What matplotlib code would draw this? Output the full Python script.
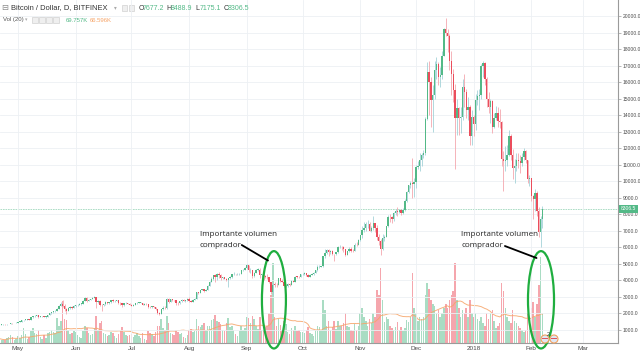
import matplotlib
matplotlib.use('Agg')
import matplotlib.pyplot as plt
import matplotlib.dates as mdates
import matplotlib.transforms as mtransforms
from matplotlib import font_manager
from matplotlib.patches import Ellipse, Rectangle
import numpy as np
import pandas as pd

# ---------------- data ----------------
start_date = '2017-04-21'
first_open = 1290.0

close = [
    1300, 1310, 1310, 1305, 1320, 1350, 1390, 1380, 1390, 1420,
    1470, 1480, 1550, 1580, 1590, 1610, 1600, 1730, 1790, 1830, 1880, 1760, 1800, 1810, 1770, 1770, 1860, 1970, 2040, 2120, 2150, 2250, 2430, 2560, 2450, 2250, 2140, 2300, 2370, 2330, 2430,
    2480, 2510, 2560, 2570, 2740, 2920, 2750, 2810, 2840, 2920, 2980, 2680, 2740, 2480, 2470, 2520, 2680, 2580, 2640, 2790, 2720, 2730, 2760, 2620, 2600, 2480, 2590, 2610, 2570, 2500,
    2440, 2510, 2600, 2620, 2620, 2620, 2500, 2560, 2520, 2360, 2350, 2410, 2360, 2220, 1980, 1930, 2230, 2320, 2280, 2850, 2680, 2820, 2770, 2760, 2600, 2580, 2700, 2810, 2740, 2770, 2860,
    2730, 2690, 2790, 2860, 3250, 3220, 3390, 3440, 3340, 3420, 3640, 3870, 4060, 4300, 4160, 4370, 4280, 4140, 4180, 4080, 4000, 4100, 4160, 4340, 4360, 4350, 4360, 4390, 4590, 4590, 4730,
    4900, 4580, 4600, 4250, 4420, 4620, 4630, 4310, 4330, 4250, 4200, 4170, 3880, 3250, 3720, 3710, 3680, 4100, 3910, 3900, 3630, 3630, 3780, 3670, 3930, 3890, 4210, 4190, 4170, 4340,
    4390, 4400, 4300, 4210, 4320, 4360, 4430, 4600, 4770, 4780, 4820, 5430, 5630, 5820, 5690, 5750, 5590, 5560, 5690, 5990, 6000, 5970, 5890, 5510, 5730, 5880, 5770, 5750, 6140, 6120, 6440,
    6740, 7030, 7180, 7380, 7400, 6990, 7130, 7460, 7150, 6620, 6350, 5880, 6530, 6600, 7280, 7830, 7800, 7720, 8040, 8200, 8100, 8240, 8080, 8250, 8800, 9330, 9750, 9900, 9800, 9950,
    10870, 10930, 11300, 11600, 11700, 13750, 16600, 16000, 14900, 15200, 16700, 17100, 16300, 16400, 17600, 19200, 19000, 18800, 17300, 16500, 15500, 13800, 14400, 13800, 13900, 15700, 15400, 14300, 14500, 12700, 13900,
    13450, 14900, 15150, 15200, 16950, 17150, 16200, 14950, 14500, 14850, 13300, 13800, 14150, 13650, 13600, 11350, 11200, 11250, 11600, 12700, 11550, 10800, 10900, 11300, 11200, 11100, 11450, 11800, 11250, 10100, 10200,
    9100, 8900, 9250, 8200, 6900, 7677.2, 8306.5,
]
high = [
    1315, 1320, 1320, 1320, 1330, 1360, 1400, 1410, 1395, 1430,
    1480, 1500, 1560, 1600, 1620, 1630, 1640, 1740, 1800, 1850, 1890, 1890, 1810, 1830, 1820, 1800, 1870, 1990, 2070, 2130, 2200, 2290, 2470, 2640, 2780, 2560, 2330, 2340, 2420, 2400, 2460,
    2500, 2530, 2590, 2600, 2760, 2950, 2940, 2820, 2870, 2940, 3020, 2990, 2800, 2800, 2530, 2560, 2720, 2690, 2660, 2800, 2830, 2780, 2790, 2770, 2640, 2620, 2600, 2650, 2620, 2600,
    2530, 2530, 2620, 2680, 2650, 2640, 2620, 2580, 2580, 2520, 2420, 2450, 2440, 2380, 2250, 2050, 2250, 2400, 2420, 2900, 2900, 2870, 2860, 2800, 2780, 2660, 2720, 2830, 2820, 2800, 2900,
    2950, 2780, 2820, 2920, 3300, 3280, 3420, 3470, 3430, 3450, 3680, 3960, 4200, 4330, 4380, 4420, 4480, 4380, 4200, 4200, 4100, 4150, 4250, 4370, 4460, 4380, 4410, 4410, 4620, 4640, 4760,
    4980, 4920, 4720, 4620, 4470, 4680, 4700, 4700, 4390, 4340, 4320, 4360, 4190, 3900, 3800, 3900, 3800, 4130, 4130, 4060, 3940, 3760, 3820, 3820, 3980, 3990, 4240, 4270, 4240, 4370,
    4400, 4470, 4420, 4350, 4350, 4420, 4460, 4620, 4880, 4920, 4870, 5450, 5850, 5860, 5850, 5790, 5790, 5600, 5720, 6080, 6150, 6070, 6050, 5900, 5760, 5980, 5990, 5850, 6260, 6300, 6470,
    6750, 7250, 7500, 7500, 7620, 7490, 7250, 7880, 7480, 7350, 6800, 6480, 6780, 6750, 7300, 7950, 8000, 7900, 8100, 8300, 8400, 8300, 8300, 8350, 8900, 9400, 9780, 9980, 11400, 10200,
    10950, 11200, 11700, 11700, 11900, 13850, 17200, 17300, 16300, 15800, 17300, 17500, 17200, 16900, 17900, 19300, 19890, 19200, 18900, 17900, 16800, 15900, 15000, 14500, 14500, 16200, 16500, 15600, 15100, 14600, 14300,
    14000, 15300, 15500, 15600, 17100, 17250, 17200, 16300, 15400, 14950, 14900, 14150, 14550, 14500, 14350, 13650, 11800, 12100, 12200, 13100, 12850, 11950, 11350, 11700, 11700, 11600, 11700, 12000, 11850, 11300, 10350,
    10150, 9150, 9500, 9400, 8400, 7900, 8488.9,
]
low = [
    1280, 1290, 1295, 1290, 1295, 1315, 1345, 1355, 1365, 1380,
    1410, 1440, 1470, 1530, 1560, 1580, 1570, 1590, 1700, 1760, 1810, 1720, 1730, 1760, 1730, 1720, 1760, 1850, 1960, 2030, 2050, 2120, 2250, 2400, 2350, 2150, 1950, 2100, 2270, 2250, 2300,
    2380, 2440, 2490, 2510, 2560, 2730, 2680, 2720, 2790, 2830, 2880, 2320, 2600, 2420, 2150, 2400, 2510, 2560, 2560, 2620, 2680, 2680, 2700, 2570, 2480, 2350, 2420, 2520, 2540, 2460,
    2400, 2420, 2500, 2570, 2580, 2580, 2480, 2490, 2500, 2300, 2280, 2310, 2320, 2180, 1950, 1850, 1920, 2200, 2250, 2260, 2620, 2660, 2700, 2700, 2500, 2500, 2560, 2680, 2700, 2680, 2740,
    2640, 2640, 2680, 2780, 2850, 3150, 3220, 3370, 3300, 3320, 3410, 3620, 3860, 3980, 3900, 4000, 4150, 4000, 4050, 4060, 3960, 3600, 4040, 4100, 4300, 4300, 4320, 4300, 4350, 4540, 4580,
    4690, 4500, 4420, 4110, 4160, 4420, 4520, 4130, 4180, 4000, 4120, 4070, 3800, 3150, 3100, 3570, 3570, 3680, 3860, 3860, 3600, 3560, 3600, 3650, 3670, 3850, 3880, 4120, 4110, 4160,
    4280, 4330, 4240, 4160, 4200, 4300, 4310, 4410, 4550, 4730, 4770, 4800, 5350, 5600, 5480, 5600, 5500, 5150, 5530, 5620, 5930, 5790, 5700, 5480, 5530, 5700, 5700, 5700, 5740, 6040, 6100,
    6350, 6550, 6880, 6950, 7150, 6950, 6900, 7050, 6930, 6400, 6100, 5500, 5800, 6350, 6590, 7200, 7500, 7470, 7600, 7920, 7900, 8050, 7950, 8000, 8200, 8750, 9250, 9600, 9000, 9050,
    9600, 10700, 10600, 10900, 11400, 11600, 13700, 14000, 13300, 13000, 15000, 16200, 15800, 15700, 16200, 17600, 18800, 17800, 16700, 15200, 14800, 10700, 12800, 12800, 12900, 13700, 14500, 13800, 13700, 12200, 12200,
    12700, 13100, 14600, 14300, 15000, 16300, 15800, 14500, 14100, 13500, 12900, 13200, 13700, 13300, 13200, 10900, 9400, 10600, 10900, 11500, 11300, 10100, 9900, 10600, 10800, 10500, 10900, 11300, 11100, 9900, 9700,
    8800, 7700, 8200, 7900, 6600, 6000, 7175.1,
]
volume_k = [
    10, 8, 6, 7, 12, 14, 18, 13, 8, 9,
    16, 12, 18, 35, 20, 10, 14, 28, 34, 22, 20, 30, 14, 10, 18, 12, 22, 26, 30, 26, 22, 58, 40, 50, 97, 55, 52, 30, 20, 22, 28,
    26, 18, 14, 12, 28, 40, 34, 22, 18, 20, 35, 62, 30, 45, 50, 24, 20, 16, 18, 26, 22, 16, 12, 20, 28, 36, 26, 18, 15, 18,
    20, 14, 18, 22, 16, 12, 22, 10, 8, 28, 24, 20, 16, 26, 40, 38, 55, 35, 30, 62, 45, 22, 20, 18, 30, 26, 20, 24, 14, 12, 18,
    30, 32, 26, 28, 55, 40, 36, 42, 46, 30, 40, 38, 52, 56, 64, 50, 48, 44, 30, 28, 46, 58, 36, 38, 30, 20, 16, 28, 38, 30, 34,
    60, 58, 45, 62, 55, 40, 32, 60, 30, 28, 36, 40, 70, 110, 184, 60, 40, 56, 42, 30, 50, 44, 26, 20, 34, 30, 40, 28, 30, 26,
    26, 22, 30, 36, 24, 20, 16, 30, 40, 36, 30, 99, 75, 40, 50, 30, 36, 50, 32, 50, 38, 40, 46, 69, 40, 36, 30, 28, 44, 30, 40,
    70, 80, 60, 50, 40, 55, 45, 70, 60, 122, 110, 172, 99, 48, 60, 55, 40, 35, 30, 36, 48, 30, 36, 28, 34, 52, 48, 60, 160, 80,
    70, 50, 60, 55, 60, 110, 138, 125, 100, 90, 85, 70, 75, 60, 70, 80, 90, 80, 100, 110, 120, 184, 100, 80, 60, 75, 70, 80, 60, 100, 70,
    60, 70, 55, 50, 60, 45, 40, 70, 55, 70, 75, 50, 35, 40, 45, 138, 120, 80, 60, 50, 45, 75, 50, 46.16, 40, 35, 30, 25, 30, 70, 50,
    80, 95, 60, 90, 133, 198, 69.757,
]

month_ticks = ['2017-05-01', '2017-06-01', '2017-07-01', '2017-08-01', '2017-09-01', '2017-10-01',
               '2017-11-01', '2017-12-01', '2018-01-01', '2018-02-01', '2018-03-01']
month_labels = ['May', 'Jun', 'Jul', 'Aug', 'Sep', 'Oct', 'Nov', 'Dec', '2018', 'Feb', 'Mar']
price_ticks = list(range(1000, 20001, 1000))
symbol_title = 'Bitcoin / Dollar, D, BITFINEX'
vol_title = 'Vol (20)'
note_text = 'Importante volumen\ncomprador'
note_dates = ['2017-09-15', '2018-02-06']

# ---------------- style ----------------
UP = '#53b987'
DN = '#eb4d5c'
UP_WICK = '#a4d2d8'
DN_WICK = '#f4a7ae'
VUP = '#a9dcc3'
VDN = '#f5a6ad'
MA_COL = '#f6a468'
GRID = '#edf0f4'
AXC = '#9b9b9b'
TXT = '#4a4a4a'
FAM = ['Liberation Sans', 'DejaVu Sans']
plt.rcParams['font.family'] = FAM

try:
    font_manager.findfont('Liberation Sans Narrow', fallback_to_default=False)
    AX_FAM, AX_FS = ['Liberation Sans Narrow', 'Liberation Sans'], 4.4
except Exception:
    AX_FAM, AX_FS = ['Liberation Sans', 'DejaVu Sans'], 3.6

dates = pd.date_range(start_date, periods=len(close), freq='D')
x = mdates.date2num(dates)
close_a = np.array(close, float)
open_a = np.array([first_open] + close[:-1], float)
high_a = np.array(high, float)
low_a = np.array(low, float)
vol_a = np.array(volume_k, float)
up = close_a >= open_a

W, H = 640, 352
fig = plt.figure(figsize=(W / 100, H / 100), dpi=100)
fig.patch.set_facecolor('white')
ax = fig.add_axes([0, 9 / H, 618 / W, 343 / H])
axv = ax.twinx()
ax.set_zorder(axv.get_zorder() + 1)
ax.patch.set_visible(False)

x0 = x[0]
ax.set_xlim(x0 + 0.32, x0 + 332.6)
ax.set_ylim(182, 20970)
axv.set_ylim(0, 789)

# volume
axv.bar(x, vol_a, width=0.8, color=np.where(up, VUP, VDN), linewidth=0)
ma = pd.Series(vol_a).rolling(20, min_periods=1).mean().values
axv.plot(x, ma, color=MA_COL, lw=0.7, alpha=0.85)
axv.set_yticks([])
for s in axv.spines.values():
    s.set_visible(False)

# candles
ax.vlines(x, low_a, high_a, colors=np.where(up, UP_WICK, DN_WICK), lw=0.6, zorder=2)
body_lo = np.minimum(open_a, close_a)
body_h = np.maximum(np.abs(close_a - open_a), 30)
ax.bar(x, body_h, bottom=body_lo, width=0.72, color=np.where(up, UP, DN), linewidth=0, zorder=3)

# axes styling
ax.yaxis.tick_right()
ax.set_yticks(price_ticks)
ax.set_yticklabels([f'{v:.1f}' for v in price_ticks])
ax.set_xticks(mdates.date2num(pd.to_datetime(month_ticks)))
ax.set_xticklabels(month_labels)
ax.tick_params(axis='y', direction='out', length=2.5, width=0.5, colors=AXC,
               labelcolor=TXT, labelsize=AX_FS, pad=1.0)
ax.tick_params(axis='x', length=0, labelcolor=TXT, labelsize=4.6, pad=2)
for lbl in ax.get_yticklabels():
    lbl.set_family(AX_FAM)
ax.grid(True, color=GRID, lw=0.6)
for k in ['top', 'left']:
    ax.spines[k].set_visible(False)
for k in ['right', 'bottom']:
    ax.spines[k].set_color(AXC)
    ax.spines[k].set_linewidth(0.8)

# last price line & label
last = close_a[-1]
ax.axhline(last, color=UP, lw=0.6, alpha=0.55, ls=(0, (2, 1)), zorder=1)
blend = mtransforms.blended_transform_factory(ax.transAxes, ax.transData)
ax.text(1.0 + 3 / 618, last, f'{last:.1f}', transform=blend, ha='left', va='center',
        fontsize=AX_FS, color='white', clip_on=False, zorder=10, family=AX_FAM,
        bbox=dict(boxstyle='square,pad=0.35', fc=UP, ec='none'))

# annotations
note_lines = note_text.split('\n')
for i, d in enumerate(note_dates):
    xc = mdates.date2num(pd.Timestamp(d))
    off = 0.6 if i == 0 else 0.2
    wd = 12.9 if i == 0 else 14.0
    ax.add_patch(Ellipse((xc + off, 2800), width=wd, height=5900, fill=False,
                         ec='#1fae3f', lw=1.6, clip_on=False, zorder=8))
    tx = xc - (39.4 if i == 0 else 42.6)
    for ln, yy in zip(note_lines, (6787, 6090)):
        ax.text(tx, yy, ln, ha='left', va='center', fontsize=5.8, color='#222222',
                zorder=9, family=['Open Sans', 'DejaVu Sans'])
    if i == 0:
        a0, a1 = (x0 + 130.3, 6120), (x0 + 144.4, 5181)
    else:
        a0, a1 = (x0 + 271.8, 6060), (x0 + 288.8, 5333)
    ax.annotate('', xy=a1, xytext=a0,
                arrowprops=dict(arrowstyle='-', color='black', lw=1.3, shrinkA=0, shrinkB=0),
                zorder=9)

# header
def fx(px):
    return px / W

def fy(py):
    return 1 - py / H

fig.text(fx(1.5), fy(8), '\u229f', fontsize=6, color='#8a8a8a', va='center', ha='left',
         family=['DejaVu Sans'])
fig.text(fx(11), fy(8), symbol_title, fontsize=5.4, color='#333333', va='center', ha='left')
fig.text(fx(114), fy(8), '\u25be', fontsize=4, color='#aaaaaa', va='center', ha='left',
         family=['DejaVu Sans'])
for bx in (122, 129):
    fig.add_artist(Rectangle((fx(bx), fy(11)), 5 / W, 6 / H, transform=fig.transFigure,
                             fc='#efefef', ec='#c9c9c9', lw=0.4))
ohlc = [('O', open_a[-1]), ('H', high_a[-1]), ('L', low_a[-1]), ('C', close_a[-1])]
for j, (lab, val) in enumerate(ohlc):
    px0 = 138.5 + j * 28.3
    fig.text(fx(px0), fy(8), lab, fontsize=5.0, color='#333333', va='center', ha='left')
    fig.text(fx(px0 + 4.3), fy(8), f'{val:.1f}', fontsize=5.0, color=UP, va='center', ha='left')

fig.text(fx(3), fy(20), vol_title, fontsize=4.3, color='#555555', va='center', ha='left')
fig.text(fx(24.5), fy(20), '\u25be', fontsize=3.5, color='#aaaaaa', va='center', ha='left',
         family=['DejaVu Sans'])
for bx in (32, 39, 46, 53):
    fig.add_artist(Rectangle((fx(bx), fy(23)), 5.5 / W, 6 / H, transform=fig.transFigure,
                             fc='#efefef', ec='#c9c9c9', lw=0.4))
fig.text(fx(66), fy(20), f'{vol_a[-1]:.3f}K', fontsize=4.3, color=UP, va='center', ha='left')
fig.text(fx(90), fy(20), f'{ma[-1]:.3f}K', fontsize=4.3, color=MA_COL, va='center', ha='left')

# event flags near the last bars
for cx in (545, 554):
    fig.add_artist(Ellipse((fx(cx), fy(339)), 8 / W, 8 / H, transform=fig.transFigure,
                           fc='#dfe6f3', ec='#f2a15e', lw=0.8, zorder=20))
    fig.add_artist(Rectangle((fx(cx - 3), fy(339)), 6 / W, 1.5 / H, transform=fig.transFigure,
                             fc='#e0555f', ec='none', zorder=21))
fig.text(fx(548.5), fy(335), '2', fontsize=4, color='#333333', va='center', ha='center', zorder=22)

fig.savefig('out.png', dpi=100)
